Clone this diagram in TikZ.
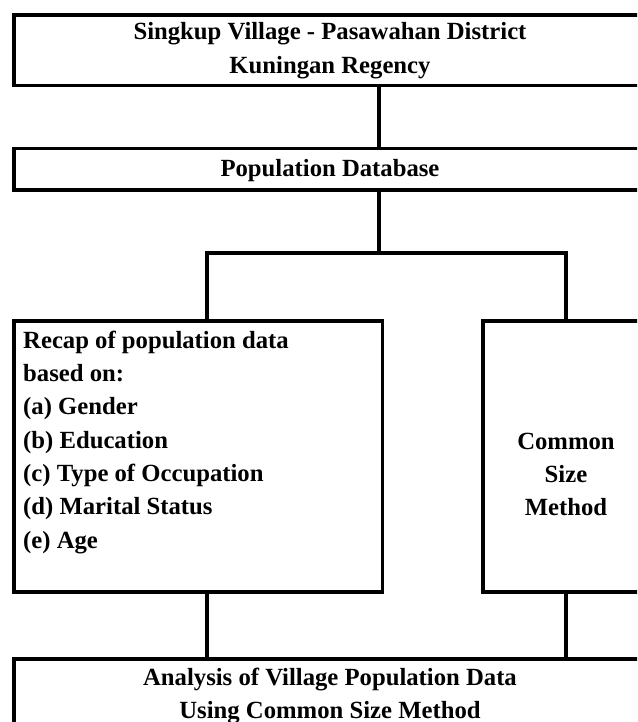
\documentclass[tikz,border=0pt]{standalone}
\usepackage{fontspec}
\setmainfont{Liberation Serif}
\begin{document}
\begin{tikzpicture}[x=1pt,y=-1pt,
  box/.style={draw=black, line width=3.5pt, rectangle, inner sep=0pt, anchor=north west, fill=white},
  wire/.style={draw=black, line width=3.5pt},
  txt/.style={inner sep=0pt, font=\bfseries\fontsize{24.7}{33.4}\selectfont, text=black},
  ctxt/.style={txt, anchor=base},
  ltxt/.style={txt, anchor=base west}]
\useasboundingbox (0,0) rectangle (637,722);
\clip (0,0) rectangle (637,722);
% boxes
\node[box, minimum width=636pt, minimum height=70.7pt] (top) at (12,13.3) {};
\node[box, minimum width=636pt, minimum height=41pt] (pop) at (12,147) {};
\node[box, minimum width=368.6pt, minimum height=271pt] (left) at (12,319) {};
\node[box, minimum width=170pt, minimum height=271pt] (right) at (481,319) {};
\node[box, minimum width=636pt, minimum height=110pt] (bottom) at (12,657) {};
% junctions
\coordinate (jc) at (379,253);
\coordinate (jl) at (207,253);
\coordinate (jr) at (566,253);
% connectors
\draw[wire] (jc |- top.south) -- (jc |- pop.north);
\draw[wire] (jc |- pop.south) -- (jc);
\draw[wire] (jl |- left.north) -- (jl) -- (jr) -- (jr |- right.north);
\draw[wire] (jl |- left.south) -- (jl |- bottom.north);
\draw[wire] (jr |- right.south) -- (jr |- bottom.north);
% texts
\node[ctxt] (t1) at (330,40) {Singkup Village - Pasawahan District};
\node[ctxt] (t2) at (330,74) {Kuningan Regency};
\node[ctxt] (p1) at (330,177) {Population Database};
\node[ltxt] (l1) at (23,348) {Recap of population data};
\node[ltxt] (l2) at (23,381.3) {based on:};
\node[ltxt] (l3) at (23,414.7) {(a) Gender};
\node[ltxt] (l4) at (23,448) {(b) Education};
\node[ltxt] (l5) at (23,481.3) {(c) Type of Occupation};
\node[ltxt] (l6) at (23,514.7) {(d) Marital Status};
\node[ltxt] (l7) at (23,548) {(e) Age};
\node[ctxt] (r1) at (566,449) {Common};
\node[ctxt] (r2) at (566,482.3) {Size};
\node[ctxt] (r3) at (566,515.6) {Method};
\node[ctxt] (b1) at (330,685) {Analysis of Village Population Data};
\node[ctxt] (b2) at (330,718) {Using Common Size Method};
\end{tikzpicture}
\end{document}
